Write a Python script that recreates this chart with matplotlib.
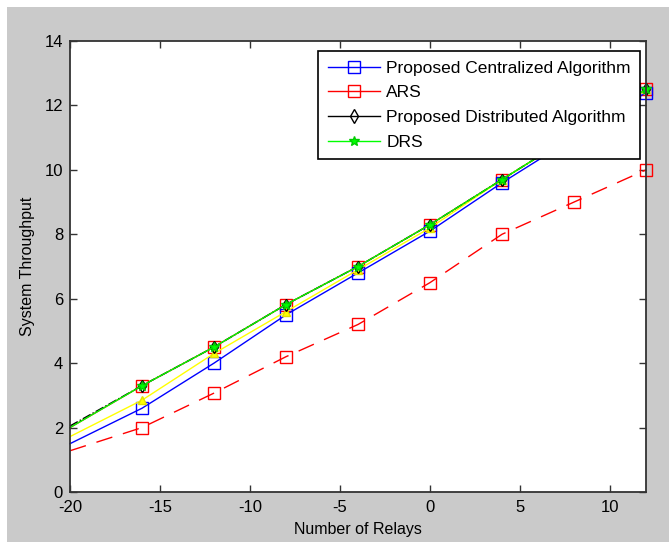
import matplotlib
matplotlib.use("Agg")
import matplotlib.pyplot as plt
from matplotlib.patches import Rectangle
from matplotlib.lines import Line2D

# Data
relays = [-20, -16, -12, -8, -4, 0, 4, 8, 12]
centralized = [1.5, 2.6, 4.0, 5.5, 6.8, 8.1, 9.6, 11.0, 12.4]
ars_dashed = [1.28, 2.0, 3.07, 4.2, 5.2, 6.5, 8.0, 9.0, 10.0]
ars_upper = [2.0, 3.3, 4.5, 5.82, 7.0, 8.3, 9.7, 11.1, 12.5]
distributed = [2.05, 3.3, 4.5, 5.82, 7.0, 8.3, 9.7, 11.1, 12.5]
drs = [2.0, 3.3, 4.5, 5.82, 7.0, 8.3, 9.7, 11.1, 12.5]
yellow = [1.72, 2.85, 4.3, 5.6, 6.9, 8.2, 9.7, 11.1, 12.5]

xticks = [-20, -15, -10, -5, 0, 5, 10]
yticks = [0, 2, 4, 6, 8, 10, 12, 14]
legend_labels = ['Proposed Centralized Algorithm', 'ARS', 'Proposed Distributed Algorithm', 'DRS']

plt.rcParams['font.family'] = ['Liberation Sans', 'DejaVu Sans']
plt.rcParams['axes.unicode_minus'] = False

fig = plt.figure(figsize=(6.69, 5.42), dpi=100, facecolor='white')
fig.patches.append(Rectangle((7/669, 0), 1, 1 - 7/542, transform=fig.transFigure,
                             facecolor='#cacaca', edgecolor='none', zorder=-10))
ax = fig.add_axes([70/669, 1 - 492/542, 576/669, 451/542])
ax.set_facecolor('white')

me = list(range(1, len(relays)))
common = dict(lw=1, markevery=me, clip_on=False)
ax.plot(relays, ars_upper, '-', color='#ff0000', marker='s', ms=9, mfc='none',
        mec='#ff0000', zorder=2, **common)
ax.plot(relays, centralized, '-', color='#0000ff', marker='s', ms=9, mfc='none',
        mec='#0000ff', zorder=3, **common)
ax.plot(relays, ars_dashed, color='#ff0000', ls=(0, (12, 8)), marker='s', ms=9,
        mfc='none', mec='#ff0000', zorder=3, **common)
ax.plot(relays, yellow, '-', color='#ffff00', marker='^', ms=6, mfc='#ffff00',
        mec='#e0e000', zorder=4, **common)
ax.plot(relays, distributed, color='black', ls='-.', marker='d', ms=6, mfc='none',
        mec='black', zorder=4, **common)
ax.plot(relays, drs, '-', color='#00ff00', marker='*', ms=7, mfc='#00ff00',
        mec='#00cc00', zorder=5, **common)

ax.set_xlim(-20, 12)
ax.set_ylim(0, 14)
ax.set_xticks(xticks)
ax.set_yticks(yticks)
ax.tick_params(direction='in', top=True, right=True, length=5, width=1,
               labelsize=12, colors='#333333', labelcolor='black', pad=5)
ax.tick_params(axis='x', pad=6)
for s in ax.spines.values():
    s.set_color('#333333')
    s.set_linewidth(1.3)
    s.set_zorder(6)
ax.set_xlabel('Number of Relays', fontsize=11.5, labelpad=5)
ax.set_ylabel('System Throughput', fontsize=11.5, labelpad=7)

leg_handles = [
    Line2D([], [], color='#0000ff', lw=1, marker='s', ms=9, mfc='none', mec='#0000ff'),
    Line2D([], [], color='#ff0000', lw=1, marker='s', ms=9, mfc='none', mec='#ff0000'),
    Line2D([], [], color='black', lw=1, marker='d', ms=7, mfc='none', mec='black'),
    Line2D([], [], color='#00ff00', lw=1, marker='*', ms=7, mfc='#00ff00', mec='#00cc00'),
]
leg = ax.legend(leg_handles, legend_labels, loc='upper right',
                bbox_to_anchor=(0.99, 0.978), bbox_transform=ax.transAxes,
                fontsize=12.5, frameon=True, fancybox=False, handlelength=3.0,
                handletextpad=0.35, borderpad=0.55, labelspacing=0.55, borderaxespad=0,
                framealpha=1)
leg.get_frame().set_edgecolor('black')
leg.get_frame().set_linewidth(1.2)
leg.set_zorder(10)

fig.savefig('out.png', dpi=100, facecolor=fig.get_facecolor())
